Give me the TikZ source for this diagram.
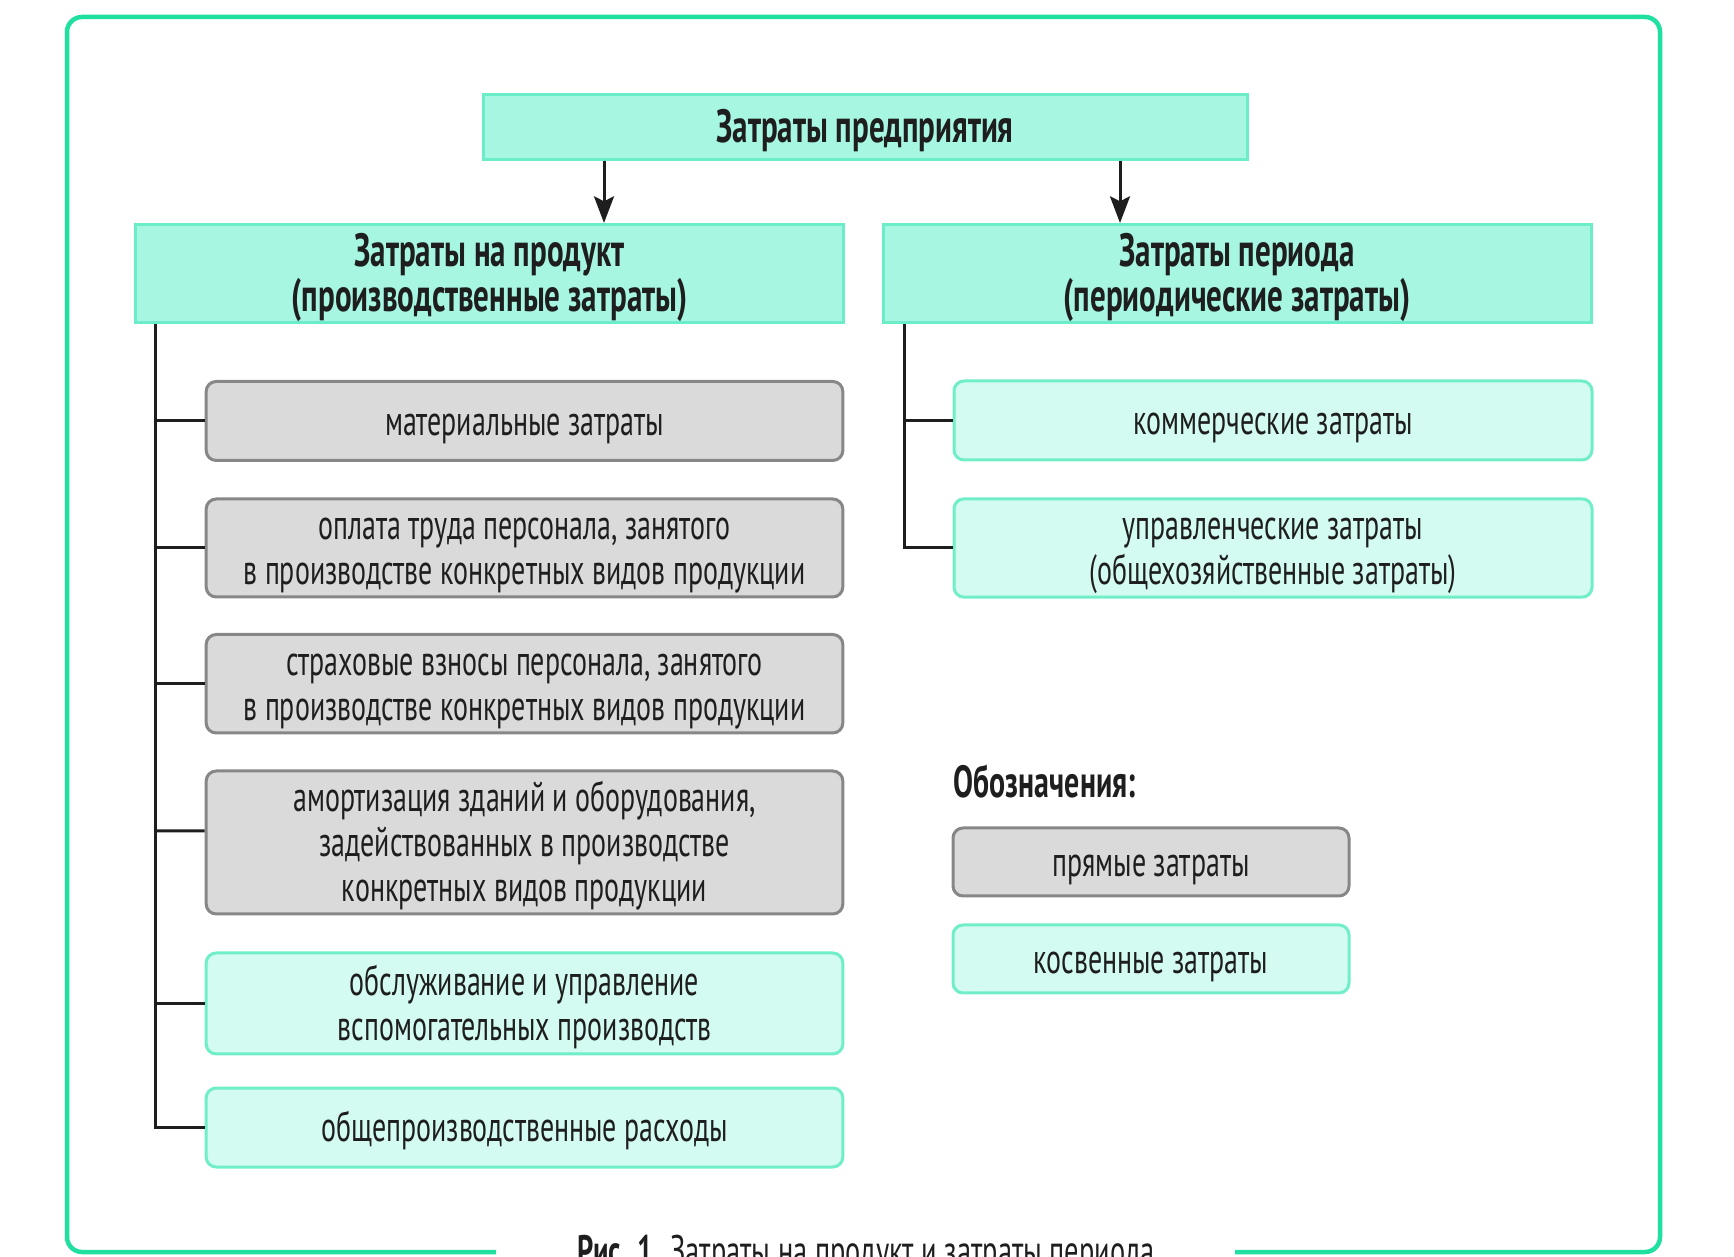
\documentclass[tikz,border=0pt]{standalone}
\usepackage{fontspec}
\setmainfont[FakeStretch=0.665]{PT Sans}
\usetikzlibrary{arrows.meta}
\definecolor{frm}{HTML}{1FE0A0}
\definecolor{hdr}{HTML}{A6F6E2}
\definecolor{hdrline}{HTML}{6AEDC8}
\definecolor{ind}{HTML}{D4FBF2}
\definecolor{indline}{HTML}{70EEC8}
\definecolor{dir}{HTML}{DADADA}
\definecolor{dirline}{HTML}{878787}
\definecolor{ink}{HTML}{1E1E1E}
\tikzset{
    head/.style={draw=hdrline, fill=hdr, line width=0.9pt, align=center, text=ink,
        inner sep=0pt, text depth=0.5pt, font=\fontsize{14pt}{13.5pt}\selectfont\bfseries},
    direct/.style={draw=dirline, fill=dir, line width=0.9pt, rounded corners=3pt,
        align=center, text=ink, inner sep=0pt, text depth=1pt,
        font=\fontsize{12.6pt}{13.5pt}\selectfont},
    indirect/.style={direct, draw=indline, fill=ind},
    treeline/.style={draw=ink, line width=0.9pt},
    down/.style={draw=ink, line width=0.9pt, -{Stealth[length=8pt,width=6pt,inset=1.5pt]}}
}
\newcommand{\lift}{\rule{0pt}{9.5pt}}
\newcommand{\branch}[2]{
    \draw[treeline] (#1 |- #2.west) -- (#2.west);
}

\begin{document}
\begin{tikzpicture}[x=0.3pt, y=-0.3pt]
        \useasboundingbox (0,0) rectangle (1734,1257);
        \draw[frm, line width=1.35pt, rounded corners=4.5pt] (496,1252) -- (67,1252)
            -- (67,17) -- (1660,17) -- (1660,1252) -- (1235,1252);
        \node[anchor=base, text=ink, inner sep=0pt, font=\fontsize{12.8pt}{13.5pt}\selectfont]
            (caption) at (866,1265) {\textbf{Рис. 1.} Затраты на продукт и затраты периода};

        \node[head, minimum width=229.2pt, minimum height=19.5pt] (top) at (865,127)
            {Затраты предприятия};
        \node[head, minimum width=212.4pt, minimum height=29.4pt] (lhead) at (489.5,273.5)
            {Затраты на продукт\\(производственные затраты)};
        \node[head, minimum width=212.4pt, minimum height=29.4pt] (rhead) at (1237,273.5)
            {Затраты периода\\(периодические затраты)};

        \coordinate (larr) at (604,0);
        \coordinate (rarr) at (1120,0);
        \draw[down] (top.south -| larr) -- (lhead.north -| larr);
        \draw[down] (top.south -| rarr) -- (rhead.north -| rarr);

        % product costs
        \node[direct, minimum width=191pt, minimum height=23.7pt] (b1) at (524.5,421)
            {\lift материальные затраты};
        \node[direct, minimum width=191pt, minimum height=29.4pt] (b2) at (524.5,548)
            {\lift оплата труда персонала, занятого\\в производстве конкретных видов продукции};
        \node[direct, minimum width=191pt, minimum height=29.55pt] (b3) at (524.5,683.75)
            {\lift страховые взносы персонала, занятого\\в производстве конкретных видов продукции};
        \node[direct, minimum width=191pt, minimum height=42.9pt] (b4) at (524.5,842.5)
            {\lift амортизация зданий и оборудования,\\задействованных в производстве\\конкретных видов продукции};
        \node[indirect, minimum width=191pt, minimum height=30.3pt] (b5) at (524.5,1003.5)
            {\lift обслуживание и управление\\вспомогательных производств};
        \node[indirect, minimum width=191pt, minimum height=23.7pt] (b6) at (524.5,1127.5)
            {\lift общепроизводственные расходы};

        \coordinate (ltree) at (155.5,0);
        \draw[treeline] (lhead.south -| ltree) -- (ltree |- b6.west) -- (b6.west);
        \branch{ltree}{b1};
        \branch{ltree}{b2};
        \branch{ltree}{b3};
        \draw[treeline] (ltree |- b4.west) ++(0,-11.5) -- ([yshift=3.45pt]b4.west);
        \branch{ltree}{b5};

        % period costs
        \node[indirect, minimum width=191.4pt, minimum height=23.7pt] (r1) at (1273,420.5)
            {\lift коммерческие затраты};
        \node[indirect, minimum width=191.4pt, minimum height=29.5pt] (r2) at (1273,548)
            {\lift управленческие затраты\\(общехозяйственные затраты)};

        \coordinate (rtree) at (904,0);
        \draw[treeline] (rhead.south -| rtree) -- (rtree |- r2.west) -- (r2.west);
        \branch{rtree}{r1};

        % legend
        \node[anchor=base west, text=ink, inner sep=0pt, font=\fontsize{13.5pt}{13.5pt}\selectfont\bfseries]
            (legend) at (953,798) {Обозначения:};
        \node[direct, minimum width=118.8pt, minimum height=20.4pt] (l1) at (1151,862)
            {\lift прямые затраты};
        \node[indirect, minimum width=118.8pt, minimum height=20.4pt] (l2) at (1151,959)
            {\lift косвенные затраты};

\end{tikzpicture}
\end{document}
